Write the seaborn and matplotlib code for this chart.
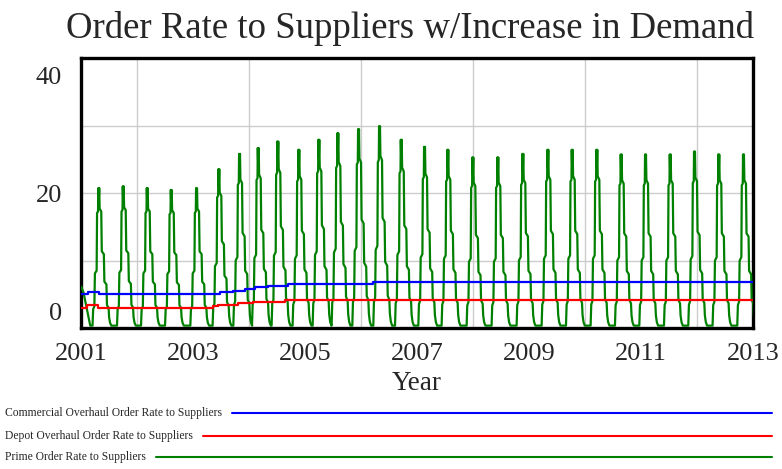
import numpy as np
import pandas as pd
import matplotlib
matplotlib.use("Agg")
import matplotlib.pyplot as plt
import seaborn as sns
from matplotlib.lines import Line2D

# ---- data -------------------------------------------------------------
year_first, year_last = 2001, 2013
x_tick_years = [2001, 2003, 2005, 2007, 2009, 2011, 2013]
y_tick_values = [0, 20, 40]

series_names = [
    "Commercial Overhaul Order Rate to Suppliers",
    "Depot Overhaul Order Rate to Suppliers",
    "Prime Order Rate to Suppliers",
]
series_colors = ["#0000ff", "#ff0000", "#008000"]

# step series: value holds from each year until the next one
commercial_years = [2001.0, 2001.12, 2001.32, 2003.48, 2003.71, 2003.92,
                    2004.10, 2004.34, 2004.69, 2006.21, 2013.0]
commercial_rate = [3.0, 3.36, 3.0, 3.25, 3.53, 3.81, 4.10, 4.37, 4.66, 5.05, 5.05]

depot_years = [2001.0, 2001.11, 2001.29, 2003.35, 2003.44, 2003.80,
               2004.07, 2004.64, 2013.0]
depot_rate = [0.65, 1.05, 0.65, 0.93, 1.15, 1.44, 1.66, 1.90, 1.90]

# prime orders: one surge per cycle, peak time and peak rate of each surge
prime_peak_years = [2001.32, 2001.757, 2002.186, 2002.615, 2003.067, 2003.465,
                    2003.835, 2004.169, 2004.519, 2004.894, 2005.252, 2005.591,
                    2005.961, 2006.336, 2006.724, 2007.140, 2007.556, 2008.003,
                    2008.449, 2008.896, 2009.343, 2009.778, 2010.218, 2010.653,
                    2011.088, 2011.529, 2011.963, 2012.397, 2012.838]
prime_peak_rate = [20.9, 21.2, 20.9, 20.6, 20.9, 24.1, 26.7, 27.7, 28.8, 27.4,
                   29.1, 30.2, 30.9, 31.4, 29.1, 27.9, 27.4, 26.1, 26.1, 26.7,
                   27.4, 27.4, 27.4, 26.6, 26.6, 26.6, 27.1, 26.6, 26.6]
prime_trough = -2.4
prime_start_years = [2001.0, 2001.04, 2001.10, 2001.16]
prime_start_rate = [4.2, 3.2, 0.4, -2.4]

# shape of one surge: time offset from the peak (weeks) and share of the swing
cycle_offset_weeks = [-6.2, -5.6, -4.5, -4.0, -2.4, -2.0, -1.1, -0.85, -0.45,
                      0.0, 0.4, 1.9, 2.4, 4.3, 4.8, 6.7, 7.2, 8.7, 9.2, 10.1, 11.3]
cycle_share = [0.0, 0.12, 0.14, 0.38, 0.40, 0.82, 0.83, 1.0, 0.9,
               1.0, 0.85, 0.83, 0.54, 0.52, 0.32, 0.30, 0.15, 0.13, 0.06, 0.02, 0.0]

# ---- build tables -----------------------------------------------------
def step_frame(years, values, name):
    xs, ys = [], []
    for i, (yr, v) in enumerate(zip(years, values)):
        if i > 0:
            xs.append(yr)
            ys.append(values[i - 1])
        xs.append(yr)
        ys.append(v)
    return pd.DataFrame({"Year": xs, "Rate": ys, "Series": name})

offsets = np.array(cycle_offset_weeks) / 52.0
prime_x = list(prime_start_years)
prime_y = list(prime_start_rate)
for t_peak, peak in zip(prime_peak_years, prime_peak_rate):
    prime_x.extend(t_peak + offsets)
    prime_y.extend(prime_trough + np.array(cycle_share) * (peak - prime_trough))
prime_df = pd.DataFrame({"Year": prime_x, "Rate": prime_y, "Series": series_names[2]})

commercial_df = step_frame(commercial_years, commercial_rate, series_names[0])
depot_df = step_frame(depot_years, depot_rate, series_names[1])

# ---- figure -----------------------------------------------------------
sns.set_style("white")
plt.rcParams["font.family"] = ["Liberation Serif", "DejaVu Serif"]

W, H = 782, 469
fig = plt.figure(figsize=(W / 100, H / 100), dpi=100)
ax = fig.add_axes([81.3 / W, 1 - 328 / H, 671.7 / W, 269.7 / H])

sns.lineplot(data=prime_df, x="Year", y="Rate", ax=ax, color=series_colors[2],
             lw=1.6, estimator=None, sort=False, legend=False, zorder=3)
sns.lineplot(data=depot_df, x="Year", y="Rate", ax=ax, color=series_colors[1],
             lw=1.6, estimator=None, sort=False, legend=False, zorder=4)
sns.lineplot(data=commercial_df, x="Year", y="Rate", ax=ax, color=series_colors[0],
             lw=1.6, estimator=None, sort=False, legend=False, zorder=4)

y_lo, y_hi = -2.8, 42.9
ax.set_xlim(year_first, year_last)
ax.set_ylim(y_lo, y_hi)

# labels on every other year, grid on every year
ax.set_xticks(x_tick_years)
ax.set_xticks(np.arange(year_first, year_last + 1), minor=True)
ax.set_yticks(y_tick_values)
ax.set_yticks(np.linspace(y_lo, y_hi, 5)[1:-1], minor=True)
ax.grid(False, which="major")
ax.grid(True, which="minor", color="#cccccc", lw=1.0)
ax.tick_params(which="both", length=0)
ax.tick_params(axis="y", labelsize=19, pad=14)
ax.tick_params(axis="x", labelsize=19, pad=11)
ax.set_xlabel("Year", fontsize=19.5, labelpad=4)
ax.set_ylabel("")
for s in ax.spines.values():
    s.set_visible(True)
    s.set_color("black")
    s.set_linewidth(2.4)

fig.text(410 / W, 1 - 28 / H, "Order Rate to Suppliers w/Increase in Demand",
         fontsize=26.5, ha="center", va="center")

# legend rows: name followed by a long sample line
fig.canvas.draw()
renderer = fig.canvas.get_renderer()
row_y = [413, 436, 457]
for name, color, yy in zip(series_names, series_colors, row_y):
    t = fig.text(5 / W, 1 - yy / H, name, fontsize=8.4, ha="left", va="center")
    bb = t.get_window_extent(renderer)
    fig.add_artist(Line2D([(bb.x1 + 10) / W, 772 / W], [1 - yy / H, 1 - yy / H],
                          color=color, lw=1.5, transform=fig.transFigure))

fig.savefig("out.png", dpi=100)
